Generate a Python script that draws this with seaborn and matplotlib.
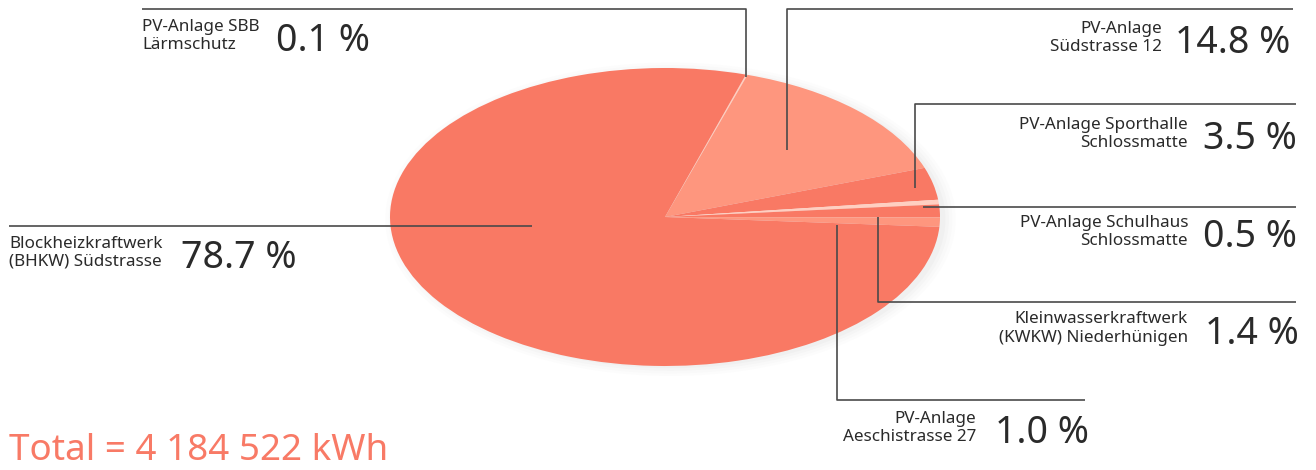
import matplotlib
matplotlib.use("Agg")
import matplotlib.pyplot as plt
from matplotlib.patches import Ellipse
import seaborn as sns

# data
sources = ["PV-Anlage SBB Lärmschutz", "PV-Anlage Südstrasse 12",
           "PV-Anlage Sporthalle Schlossmatte", "PV-Anlage Schulhaus Schlossmatte",
           "Kleinwasserkraftwerk (KWKW) Niederhünigen", "PV-Anlage Aeschistrasse 27",
           "Blockheizkraftwerk (BHKW) Südstrasse"]
shares = [0.1, 14.8, 3.5, 0.5, 1.4, 1.0, 78.7]
label_lines = [("PV-Anlage SBB", "Lärmschutz"),
               ("PV-Anlage", "Südstrasse 12"),
               ("PV-Anlage Sporthalle", "Schlossmatte"),
               ("PV-Anlage Schulhaus", "Schlossmatte"),
               ("Kleinwasserkraftwerk", "(KWKW) Niederhünigen"),
               ("PV-Anlage", "Aeschistrasse 27"),
               ("Blockheizkraftwerk", "(BHKW) Südstrasse")]
total_kwh = "4 184 522"

coral = "#f97964"
light = "#fe967e"
pale = "#ffcfc1"
colors = [pale, light, coral, pale, coral, light, coral]

sns.set_theme(style="white")
plt.rcParams["font.family"] = ["Noto Sans", "DejaVu Sans"]

W, H = 1316, 470
fig = plt.figure(figsize=(W / 100, H / 100), dpi=100)

# pie axes, squashed into an ellipse
cx, cy, rx, ry = 665, 217, 275, 149
ax = fig.add_axes([(cx - rx) / W, (H - cy - ry) / H, 2 * rx / W, 2 * ry / H])
for k, a in enumerate([0.035, 0.03, 0.025, 0.02]):
    ax.add_patch(Ellipse((0.02, -0.015), 2.0 + k * 0.025, 2.0 + k * 0.035,
                         color="#888888", alpha=a, lw=0, zorder=0, clip_on=False))
ax.pie(shares, colors=colors, startangle=72.9, counterclock=False,
       wedgeprops=dict(linewidth=0))
ax.set_aspect("auto")
ax.set_xlim(-1, 1)
ax.set_ylim(-1, 1)
ax.axis("off")

# overlay for leader lines and labels (pixel coordinates)
ov = fig.add_axes([0, 0, 1, 1], zorder=5)
ov.set_xlim(0, W)
ov.set_ylim(H, 0)
ov.axis("off")
ov.patch.set_alpha(0)

# leader routes: points, label x, percent x, baselines, alignment
routes = [
    ([(746, 77), (746, 9), (142, 9)], 142, 276, (31, 49), "left"),
    ([(787, 150), (787, 9), (1293, 9)], 1162, 1175, (33, 51), "right"),
    ([(915, 188), (915, 104), (1296, 104)], 1188, 1203, (129, 147), "right"),
    ([(923, 207), (1296, 207)], 1188, 1203, (227, 245), "right"),
    ([(878, 217), (878, 302), (1296, 302)], 1188, 1205, (323, 342), "right"),
    ([(837, 225), (837, 400), (1085, 400)], 976, 995, (423, 441), "right"),
    ([(532, 226), (9, 226)], 9, 181, (248, 266), "left"),
]

txt = "#2a2a2a"
for (pts, tx, px, (b1, b2), ha), lines, val in zip(routes, label_lines, shares):
    xs = [p[0] for p in pts]
    ys = [p[1] for p in pts]
    ov.plot(xs, ys, color="#4a4a4a", lw=1.2, solid_capstyle="butt")
    ov.text(tx, b1, lines[0], ha=ha, va="baseline", fontsize=12.3,
            fontweight="light", color=txt)
    ov.text(tx, b2, lines[1], ha=ha, va="baseline", fontsize=12.3,
            fontweight="light", color=txt)
    ov.text(px, b2 + 2, f"{val:.1f} %", ha="left", va="baseline",
            fontsize=27, fontweight="light", color=txt)

ov.text(9, 460, f"Total = {total_kwh} kWh", ha="left", va="baseline",
        fontsize=26.5, fontweight="light", color="#f87a66")

fig.savefig("out.png", dpi=100)
